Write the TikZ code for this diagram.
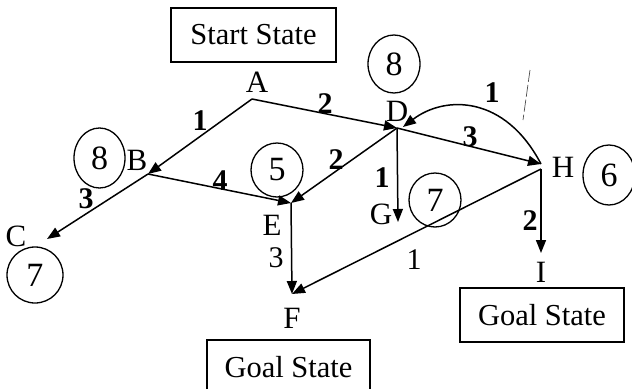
\documentclass[tikz,border=0pt]{standalone}
\usepackage{fontspec}
\setmainfont{Liberation Serif}
\usetikzlibrary{arrows.meta,shapes.geometric}
\begin{document}
\begin{tikzpicture}[x=1pt,y=-1pt,
  txt/.style={font=\fontsize{31}{35}\selectfont, inner sep=0pt},
  wlab/.style={font=\fontsize{30}{34}\selectfont\bfseries, inner sep=0pt},
  rlab/.style={font=\fontsize{30}{34}\selectfont, inner sep=0pt},
  edge/.style={line width=1.5pt, -{Triangle[length=13pt,width=10pt]}},
  hcirc/.style={draw, line width=1.3pt, ellipse, inner sep=0pt, font=\fontsize{34}{38}\selectfont},
  statebox/.style={font=\fontsize{30.5}{35}\selectfont, inner sep=0pt}]
\useasboundingbox (0,0) rectangle (632,389);
% vertices
\coordinate (A) at (252,99);
\coordinate (B) at (148,174);
\coordinate (C) at (47,239);
\coordinate (D) at (397,128);
\coordinate (D2) at (403,127);
\coordinate (E) at (291,203);
\coordinate (F) at (292,294);
\coordinate (G) at (398,222);
\coordinate (H) at (541,164);
\coordinate (H2) at (541,169);
\coordinate (I) at (541,253);
% boxes
\node[statebox, draw, line width=1.6pt, minimum width=165pt, minimum height=54pt] (start) at (253.5,35) {Start State};
\node[statebox, draw, line width=1.6pt, minimum width=164pt, minimum height=54pt] (goalI) at (542,315) {Goal State};
\node[statebox, minimum width=163pt, minimum height=54pt] (goalF) at (288.5,367) {Goal State};
\draw[line width=1.6pt] (goalF.south west |- 0,389) -- (goalF.north west) -- (goalF.north east) -- (goalF.south east |- 0,389);
% vertex labels
\node[txt] (lA) at (257,82) {A};
\node[txt] (lB) at (137,160) {B};
\node[txt] (lC) at (16,236) {C};
\node[txt] (lD) at (397,111) {D};
\node[txt] (lE) at (272,225) {E};
\node[txt] (lF) at (292,318) {F};
\node[txt] (lG) at (381,214) {G};
\node[txt] (lH) at (563,167) {H};
\node[txt] (lI) at (541,272) {I};
% heuristic circles
\node[hcirc, minimum width=51pt, minimum height=60pt] (h8B) at (99.5,158) {8};
\node[hcirc, minimum width=56pt, minimum height=56pt] (h7C) at (35,275) {7};
\node[hcirc, minimum width=52pt, minimum height=54pt] (h5E) at (277,170) {5};
\node[hcirc, minimum width=52pt, minimum height=58pt] (h8D) at (394,64) {8};
\node[hcirc, minimum width=52pt, minimum height=54pt] (h7G) at (435,200) {7};
\node[hcirc, minimum width=52pt, minimum height=60pt] (h6H) at (609,175) {6};
% edges
\draw[edge] (A) -- (B);
\draw[edge] (B) -- (C);
\draw[edge] (B) -- (E);
\draw[edge] (A) -- (D);
\draw[edge] (D) -- (E);
\draw[edge] (D) -- (G);
\draw[edge] (D) -- (H);
\draw[edge] (H) .. controls (505,95) and (445,95) .. (D2);
\draw[edge] (E) -- (F);
\draw[edge] (H2) -- (F);
\draw[edge] (H2) -- (I);
% edge weights
\node[wlab] (wAB) at (200,121) {1};
\node[wlab] (wAD) at (325,104) {2};
\node[wlab] (wBC) at (86,199) {3};
\node[wlab] (wBE) at (220,181) {4};
\node[wlab] (wDE) at (336,160) {2};
\node[wlab] (wDG) at (382,178) {1};
\node[wlab] (wDH) at (470,137) {3};
\node[wlab] (wHD) at (492,93) {1};
\node[wlab] (wHI) at (530,221) {2};
\node[rlab] (wEF) at (276,258) {3};
\node[rlab] (wHF) at (414,260) {1};
% faint mark
\draw[line width=0.7pt, black!70, dash pattern=on 12pt off 3pt] (530,70) -- (523,120);
\end{tikzpicture}
\end{document}
